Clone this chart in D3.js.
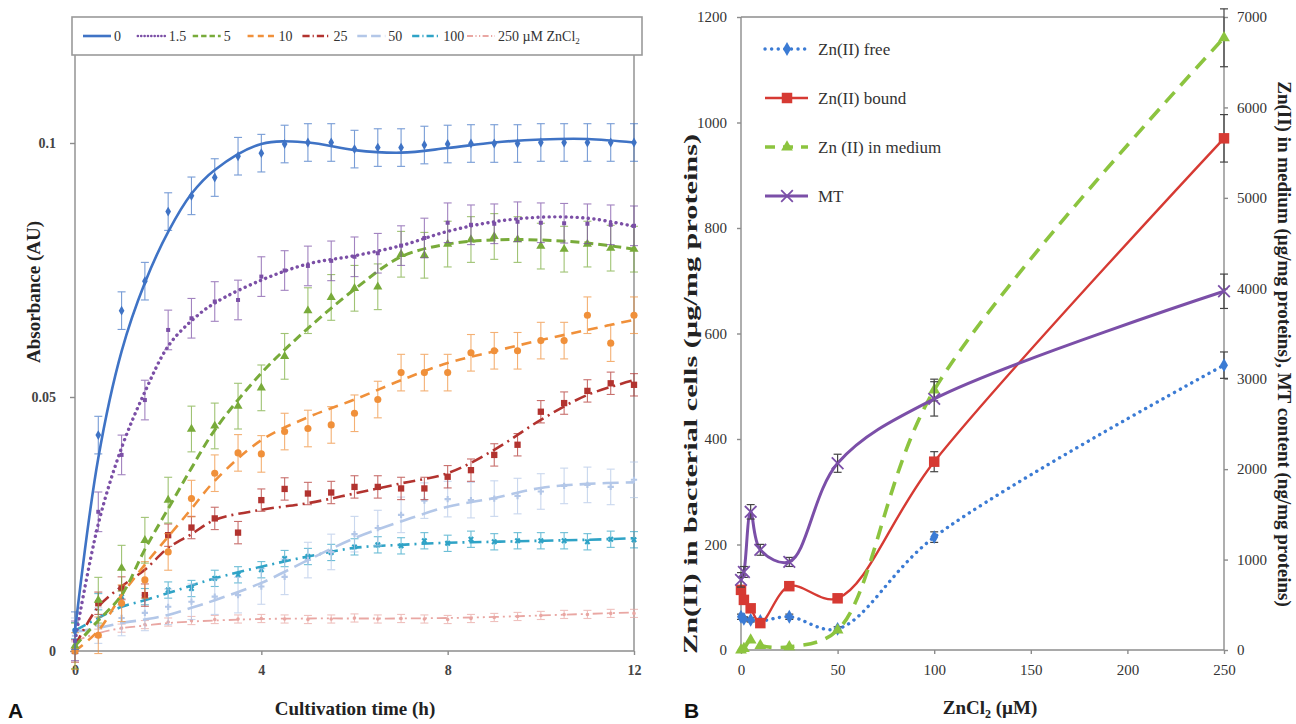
<!DOCTYPE html>
<html>
<head>
<meta charset="utf-8">
<script src="https://cdn.jsdelivr.net/npm/d3@7"></script>
<style>
  body { margin: 0; background: #fff; }
  svg text { font-family: 'Liberation Serif', 'Times New Roman', serif; fill: #333; }
  .axis path, .axis line { stroke: #8c8c8c; stroke-width: 1.4; }
  .axis-a text { font-size: 14px; font-weight: bold; fill: #444; }
  .axis-b text { font-size: 15px; fill: #333; }
  .title { font-weight: bold; fill: #222; }
  .panel-tag { font-family: 'Liberation Sans', Arial, sans-serif !important; font-weight: bold; font-size: 21px; fill: #111; }
</style>
</head>
<body>
<svg id="chart" width="1296" height="724"></svg>
<script>
// ---------- Panel A: absorbance during cultivation ----------
const timeH    = [0, 0.5, 1, 1.5, 2, 2.5, 3, 3.5, 4, 4.5, 5, 5.5, 6, 6.5, 7, 7.5, 8, 8.5, 9, 9.5, 10, 10.5, 11, 11.5, 12];
const fitTimeH = [0, 0.5, 1, 1.5, 2, 2.5, 3, 4, 5, 6, 7, 8, 9, 10, 11, 12];
const doseLabels = ['0', '1.5', '5', '10', '25', '50', '100', '250 µM ZnCl'];

const abs0   = [0.004, 0.0425, 0.067, 0.0728, 0.0865, 0.0896, 0.0932, 0.0974, 0.098, 0.0998, 0.1001, 0.1001, 0.0988, 0.0991, 0.0991, 0.0996, 0.0998, 0.0999, 0.0999, 0.0999, 0.1001, 0.1001, 0.1001, 0.1001, 0.1001];
const abs1_5 = [0.002, 0.0274, 0.0386, 0.0494, 0.0632, 0.0655, 0.0688, 0.0691, 0.0737, 0.0749, 0.0758, 0.0768, 0.0776, 0.0783, 0.0798, 0.0813, 0.0843, 0.0839, 0.0841, 0.0845, 0.0843, 0.0842, 0.0841, 0.0839, 0.0837];
const abs5   = [0.001, 0.010, 0.0163, 0.0218, 0.0297, 0.0437, 0.0443, 0.0482, 0.0518, 0.058, 0.067, 0.0696, 0.0714, 0.0717, 0.0781, 0.0779, 0.0801, 0.081, 0.0816, 0.081, 0.0797, 0.0791, 0.0801, 0.0793, 0.0791];
const abs10  = [0.000, 0.0031, 0.0094, 0.014, 0.0195, 0.030, 0.035, 0.039, 0.0388, 0.0432, 0.0438, 0.0445, 0.0468, 0.0495, 0.0548, 0.0548, 0.0548, 0.0587, 0.0591, 0.0591, 0.0611, 0.0611, 0.0661, 0.0606, 0.0661];
const abs25  = [0.000, 0.0094, 0.0124, 0.011, 0.0228, 0.0243, 0.0261, 0.0233, 0.0297, 0.0319, 0.031, 0.0312, 0.0323, 0.0323, 0.032, 0.032, 0.0343, 0.0356, 0.0386, 0.0406, 0.0471, 0.0488, 0.0512, 0.0527, 0.0524];
const abs50  = [0.003, 0.005, 0.0065, 0.0075, 0.0087, 0.0097, 0.0107, 0.011, 0.0127, 0.0146, 0.0179, 0.0195, 0.023, 0.0242, 0.0268, 0.0296, 0.0299, 0.0297, 0.030, 0.0305, 0.0314, 0.0325, 0.0327, 0.0323, 0.0337];
const abs100 = [0.004, 0.0097, 0.0107, 0.0107, 0.012, 0.0123, 0.0143, 0.015, 0.016, 0.0182, 0.0186, 0.0194, 0.0205, 0.0209, 0.0207, 0.0217, 0.0212, 0.022, 0.0215, 0.0217, 0.0217, 0.0217, 0.0215, 0.022, 0.0219];
const abs250 = [0.001, 0.0035, 0.0045, 0.0052, 0.0057, 0.006, 0.0062, 0.0063, 0.0064, 0.0063, 0.0062, 0.0063, 0.0065, 0.0063, 0.0064, 0.0063, 0.0062, 0.0064, 0.0066, 0.0068, 0.007, 0.0072, 0.0072, 0.0074, 0.0074];
const absErr = [0.0037, 0.0039, 0.0045, 0.0036, 0.0022, 0.0035, 0.0016, 0.0008];

// trend lines
const fit0   = [0.004, 0.038, 0.059, 0.0725, 0.0825, 0.090, 0.0947, 0.0998, 0.1001, 0.0986, 0.0981, 0.099, 0.1001, 0.1007, 0.1008, 0.1001];
const fit1_5 = [0.002, 0.025, 0.040, 0.051, 0.060, 0.065, 0.0685, 0.073, 0.0762, 0.0778, 0.0798, 0.0826, 0.0845, 0.0854, 0.0852, 0.0836];
const fit5   = [0.001, 0.006, 0.011, 0.020, 0.028, 0.036, 0.0435, 0.0547, 0.0635, 0.0712, 0.0776, 0.0801, 0.0809, 0.0809, 0.0803, 0.0791];
const fit10  = [0.000, 0.004, 0.011, 0.017, 0.0225, 0.028, 0.0335, 0.0415, 0.046, 0.0495, 0.0533, 0.0567, 0.059, 0.0612, 0.0632, 0.0652];
const fit25  = [0.001, 0.0087, 0.0127, 0.016, 0.0203, 0.023, 0.0258, 0.0278, 0.0291, 0.031, 0.033, 0.035, 0.0396, 0.0455, 0.0504, 0.0533];
const fit50  = [0.0038, 0.0045, 0.0055, 0.0062, 0.0071, 0.0085, 0.010, 0.0134, 0.0179, 0.0222, 0.0255, 0.0284, 0.0301, 0.0321, 0.0329, 0.0332];
const fit100 = [0.004, 0.0065, 0.0087, 0.010, 0.0114, 0.0129, 0.0143, 0.0166, 0.0186, 0.0203, 0.0209, 0.0213, 0.0215, 0.0217, 0.0219, 0.0222];
const fit250 = [0.002, 0.0035, 0.0045, 0.005, 0.0055, 0.0058, 0.006, 0.0063, 0.0064, 0.0064, 0.0064, 0.0065, 0.0067, 0.007, 0.0073, 0.0076];

// ---------- Panel B: zinc distribution vs ZnCl2 ----------
const zncl2      = [0, 1.5, 5, 10, 25, 50, 100, 250];
const znFree     = [63, 59, 57, 55, 63, 40, 214, 540];        // left axis
const znFreeErr  = [5, 4, 4, 4, 5, 4, 10, 25];
const znBound    = [114, 95, 79, 51, 121, 98, 357, 970];       // left axis
const znBoundErr = [8, 6, 6, 5, 6, 6, 19, 45];
const znMedium   = [0, 15, 110, 50, 35, 220, 2875, 6770];      // right axis
const znMediumErr = [0, 0, 0, 0, 0, 0, 120, 320];
const mtContent  = [776, 863, 1528, 1108, 974, 2065, 2777, 3967]; // right axis
const mtErr      = [80, 60, 80, 60, 50, 100, 190, 190];
const legendB    = ['Zn(II) free', 'Zn(II) bound', 'Zn (II) in medium', 'MT'];

const svg = d3.select('#chart');

// ================= Panel A =================
const xA = d3.scaleLinear().domain([0, 12]).range([75, 634]);
const yA = d3.scaleLinear().domain([0, 0.1]).range([651, 143]);
const topA = 55;

const seriesA = [
  { values: abs250, fit: fit250, err: absErr[7], color: '#e9a7a3', dash: '10 4 2 4 2 4', width: 1.8, sym: d3.symbolCircle,  size: 10 },
  { values: abs100, fit: fit100, err: absErr[6], color: '#2fa3c6', dash: '12 5 2 5',     width: 2.6, sym: d3.symbolCross,   size: 22, rot: 45 },
  { values: abs50,  fit: fit50,  err: absErr[5], color: '#b3c7e8', dash: '16 7',         width: 2.6, sym: d3.symbolCross,   size: 22 },
  { values: abs25,  fit: fit25,  err: absErr[4], color: '#b2332f', dash: '12 5 2 5',     width: 2.6, sym: d3.symbolSquare,  size: 40 },
  { values: abs10,  fit: fit10,  err: absErr[3], color: '#f0903a', dash: '10 7',         width: 2.6, sym: d3.symbolCircle,  size: 40 },
  { values: abs5,   fit: fit5,   err: absErr[2], color: '#78ab3a', dash: '9 5',          width: 3,   sym: d3.symbolTriangle, size: 36 },
  { values: abs1_5, fit: fit1_5, err: absErr[1], color: '#7b4fa6', dash: '0.1 5.5',      width: 3.4, sym: d3.symbolSquare,  size: 16, cap: 'round' },
  { values: abs0,   fit: fit0,   err: absErr[0], color: '#3f73c5', dash: null,           width: 2.6, sym: d3.symbolDiamond, size: 28 }
];

const gA = svg.append('g');

// axes
gA.append('g').attr('class', 'axis axis-a')
  .attr('transform', `translate(0,${yA(0)})`)
  .call(d3.axisBottom(xA).tickValues([0, 4, 8, 12]).tickSize(4).tickPadding(10))
  .call(g => g.select('.domain').remove());
gA.append('g').attr('class', 'axis axis-a')
  .attr('transform', `translate(${xA(0)},0)`)
  .call(d3.axisLeft(yA).tickValues([0, 0.05, 0.1]).tickSize(5).tickPadding(14).tickFormat(d => String(d)))
  .call(g => g.select('.domain').remove());

const frameA = gA.append('g').attr('stroke', '#8c8c8c').attr('stroke-width', 1.4);
frameA.append('line').attr('x1', xA(0)).attr('x2', xA(0)).attr('y1', topA).attr('y2', yA(0));
frameA.append('line').attr('x1', xA(0)).attr('x2', xA(12)).attr('y1', yA(0)).attr('y2', yA(0));
frameA.append('line').attr('x1', xA(12)).attr('x2', xA(12)).attr('y1', topA).attr('y2', yA(0));
frameA.append('rect').attr('x', 72).attr('y', 17).attr('width', 570).attr('height', topA - 17)
  .attr('fill', 'none').attr('stroke', '#9a9a9a').attr('stroke-width', 1.6);

const fitLine = d3.line()
  .x(d => xA(d[0]))
  .y(d => yA(d[1]))
  .curve(d3.curveCatmullRom.alpha(0.5));

seriesA.forEach(s => {
  const g = gA.append('g');
  const pts = timeH.map((t, i) => [t, s.values[i]]);

  // error bars
  const eb = g.append('g').attr('stroke', s.color).attr('stroke-width', 1.1).attr('opacity', 0.7);
  pts.forEach(([t, v]) => {
    const x = xA(t), y0 = yA(v - s.err), y1 = yA(v + s.err);
    eb.append('line').attr('x1', x).attr('x2', x).attr('y1', y0).attr('y2', y1);
    eb.append('line').attr('x1', x - 4).attr('x2', x + 4).attr('y1', y0).attr('y2', y0);
    eb.append('line').attr('x1', x - 4).attr('x2', x + 4).attr('y1', y1).attr('y2', y1);
  });

  // markers
  g.selectAll('path.mk').data(pts).join('path')
    .attr('class', 'mk')
    .attr('d', d3.symbol().type(s.sym).size(s.size))
    .attr('transform', d => `translate(${xA(d[0])},${yA(d[1])}) rotate(${s.rot || 0})`)
    .attr('fill', s.color);

  // trend line
  g.append('path')
    .datum(fitTimeH.map((t, i) => [t, s.fit[i]]))
    .attr('d', fitLine)
    .attr('fill', 'none')
    .attr('stroke', s.color)
    .attr('stroke-width', s.width)
    .attr('stroke-linecap', s.cap || 'butt')
    .attr('stroke-dasharray', s.dash);
});

// legend A (equal slots, as in the Excel legend)
const legendOrder = seriesA.slice().reverse();
const slotA = d3.scaleLinear().domain([0, 7]).range([83, 467]);
legendOrder.forEach((s, i) => {
  const x = slotA(i), y = 36;
  gA.append('line')
    .attr('x1', x).attr('x2', x + 28).attr('y1', y).attr('y2', y)
    .attr('stroke', s.color).attr('stroke-width', Math.min(s.width, 2.6))
    .attr('stroke-linecap', s.cap || 'butt')
    .attr('stroke-dasharray', s.dash ? s.dash.split(' ').map(v => v * 0.6).join(' ') : null);
  const t = gA.append('text').attr('x', x + 31).attr('y', y + 5).attr('font-size', 14).text(doseLabels[i]);
  if (i === 7) t.append('tspan').attr('font-size', 9).attr('dy', 3).text('2');
});

gA.append('text').attr('class', 'title')
  .attr('transform', 'translate(40,292) rotate(-90)')
  .attr('text-anchor', 'middle').attr('font-size', 19)
  .text('Absorbance (AU)');
gA.append('text').attr('class', 'title')
  .attr('x', 355).attr('y', 715).attr('text-anchor', 'middle').attr('font-size', 19)
  .text('Cultivation time (h)');
svg.append('text').attr('class', 'panel-tag').attr('x', 8).attr('y', 718).text('A');

// ================= Panel B =================
const xB  = d3.scaleLinear().domain([0, 250]).range([741, 1224]);
const yBL = d3.scaleLinear().domain([0, 1200]).range([650, 17]);
const yBR = d3.scaleLinear().domain([0, 7000]).range([650, 17]);

const gB = svg.append('g');

gB.append('g').attr('class', 'axis axis-b')
  .attr('transform', `translate(0,${yBL(0)})`)
  .call(d3.axisBottom(xB).tickValues([0, 50, 100, 150, 200, 250]).tickSize(4).tickPadding(10))
  .call(g => g.select('.domain').remove());
gB.append('g').attr('class', 'axis axis-b')
  .attr('transform', `translate(${xB(0)},0)`)
  .call(d3.axisLeft(yBL).tickValues(d3.range(0, 1201, 200)).tickSize(4).tickPadding(10).tickFormat(d3.format('d')))
  .call(g => g.select('.domain').remove());
gB.append('g').attr('class', 'axis axis-b')
  .attr('transform', `translate(${xB(250)},0)`)
  .call(d3.axisRight(yBR).tickValues(d3.range(0, 7001, 1000)).tickSize(4).tickPadding(9).tickFormat(d3.format('d')))
  .call(g => g.select('.domain').remove());

const frameB = gB.append('g').attr('stroke', '#8c8c8c').attr('stroke-width', 1.4);
frameB.append('line').attr('x1', xB(0)).attr('x2', xB(0)).attr('y1', yBL(1200)).attr('y2', yBL(0));
frameB.append('line').attr('x1', xB(250)).attr('x2', xB(250)).attr('y1', yBL(1200)).attr('y2', yBL(0));
frameB.append('line').attr('x1', xB(0)).attr('x2', xB(250)).attr('y1', yBL(0)).attr('y2', yBL(0));
frameB.append('line').attr('x1', xB(0)).attr('x2', xB(250)).attr('y1', yBL(1200)).attr('y2', yBL(1200));

const seriesB = [
  { values: znFree,    err: znFreeErr,   y: yBL, color: '#3b7bd4', width: 3.4, dash: '0.1 6.5', cap: 'round', sym: d3.symbolDiamond,  size: 55 },
  { values: znBound,   err: znBoundErr,  y: yBL, color: '#d63a33', width: 2.4, dash: null,      sym: d3.symbolSquare,   size: 110 },
  { values: znMedium,  err: znMediumErr, y: yBR, color: '#8cc43f', width: 3.6, dash: '14 9',    sym: d3.symbolTriangle, size: 60 },
  { values: mtContent, err: mtErr,       y: yBR, color: '#7b4fa8', width: 3,   dash: null,      sym: d3.symbolTimes || d3.symbolCross, size: 90, stroke: true }
];

seriesB.forEach(s => {
  const g = gB.append('g');
  const pts = zncl2.map((c, i) => [c, s.values[i], s.err[i]]);
  const line = d3.line()
    .x(d => xB(d[0]))
    .y(d => s.y(d[1]))
    .curve(d3.curveCatmullRom.alpha(0.5));

  g.append('path').datum(pts).attr('d', line)
    .attr('fill', 'none').attr('stroke', s.color).attr('stroke-width', s.width)
    .attr('stroke-linecap', s.cap || 'butt').attr('stroke-dasharray', s.dash);

  const eb = g.append('g').attr('stroke', '#444').attr('stroke-width', 1.2);
  pts.filter(d => d[2] > 0).forEach(([c, v, e]) => {
    const x = xB(c), y0 = s.y(v - e), y1 = s.y(v + e);
    eb.append('line').attr('x1', x).attr('x2', x).attr('y1', y0).attr('y2', y1);
    eb.append('line').attr('x1', x - 4).attr('x2', x + 4).attr('y1', y0).attr('y2', y0);
    eb.append('line').attr('x1', x - 4).attr('x2', x + 4).attr('y1', y1).attr('y2', y1);
  });

  g.selectAll('path.mk').data(pts).join('path')
    .attr('class', 'mk')
    .attr('d', d3.symbol().type(s.sym).size(s.size))
    .attr('transform', d => `translate(${xB(d[0])},${s.y(d[1])})`)
    .attr('fill', s.stroke ? 'none' : s.color)
    .attr('stroke', s.stroke ? s.color : null)
    .attr('stroke-width', s.stroke ? 1.8 : null);
});

// legend B
const slotB = d3.scaleLinear().domain([0, 3]).range([49, 196]);
seriesB.forEach((s, i) => {
  const y = slotB(i);
  gB.append('line')
    .attr('x1', 765).attr('x2', 808).attr('y1', y).attr('y2', y)
    .attr('stroke', s.color).attr('stroke-width', s.width)
    .attr('stroke-linecap', s.cap || 'butt')
    .attr('stroke-dasharray', s.dash === '14 9' ? '10 8' : s.dash);
  gB.append('path')
    .attr('d', d3.symbol().type(s.sym).size(s.size))
    .attr('transform', `translate(787,${y})`)
    .attr('fill', s.stroke ? 'none' : s.color)
    .attr('stroke', s.stroke ? s.color : null)
    .attr('stroke-width', s.stroke ? 1.8 : null);
  gB.append('text').attr('x', 818).attr('y', y + 6).attr('font-size', 17).text(legendB[i]);
});

gB.append('text').attr('class', 'title')
  .attr('transform', 'translate(697,394) rotate(-90)')
  .attr('text-anchor', 'middle').attr('font-size', 19)
  .attr('textLength', 520).attr('lengthAdjust', 'spacingAndGlyphs')
  .text('Zn(II) in bacterial cells (µg/mg proteins)');
gB.append('text').attr('class', 'title')
  .attr('transform', 'translate(1278,344) rotate(90)')
  .attr('text-anchor', 'middle').attr('font-size', 19)
  .text('Zn(II) in medium (µg/mg proteins), MT content (ng/mg proteins)');
const xt = gB.append('text').attr('class', 'title')
  .attr('x', 990).attr('y', 714).attr('text-anchor', 'middle').attr('font-size', 19);
xt.append('tspan').text('ZnCl');
xt.append('tspan').attr('font-size', 12).attr('dy', 4).text('2');
xt.append('tspan').attr('dy', -4).text(' (µM)');
svg.append('text').attr('class', 'panel-tag').attr('x', 684).attr('y', 718).text('B');
</script>
</body>
</html>
